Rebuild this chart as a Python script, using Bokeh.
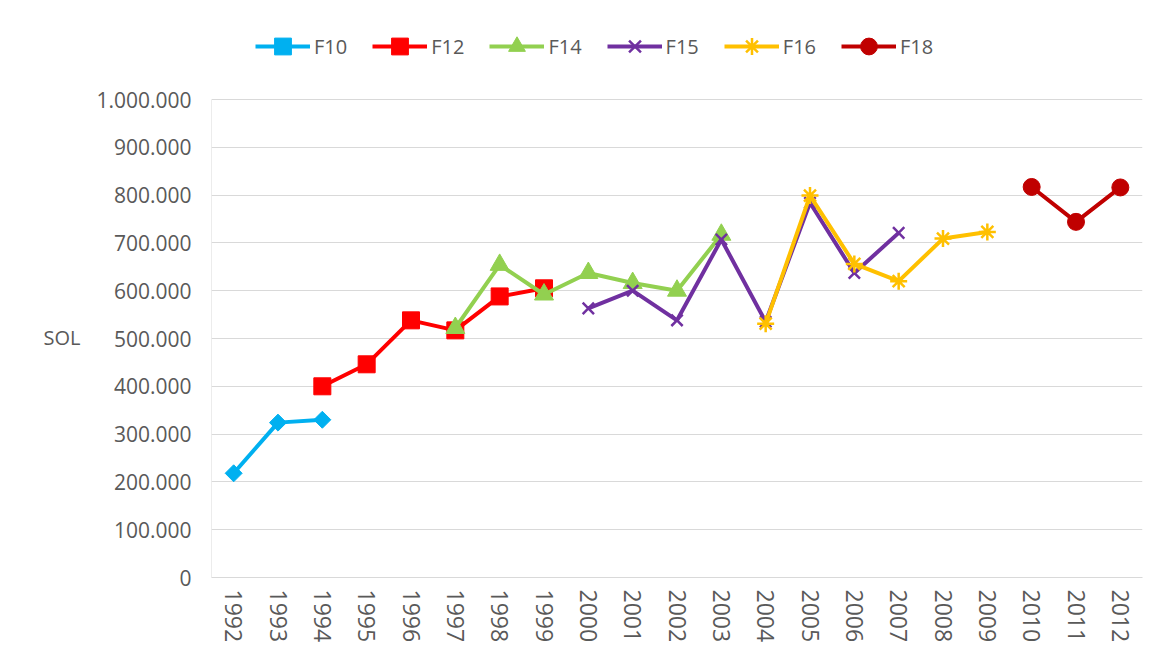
import math
from bokeh.plotting import figure
from bokeh.models import Legend, LegendItem, CustomJSTickFormatter, FixedTicker, Range1d, FactorRange
from bokeh.embed import file_html
from bokeh.resources import INLINE

years = [str(y) for y in range(1992, 2013)]

f10_years = ["1992", "1993", "1994"]
f10_vals = [218000, 324000, 330000]

f12_years = ["1994", "1995", "1996", "1997", "1998", "1999"]
f12_vals = [400000, 446000, 538000, 517000, 588000, 605000]

f14_years = ["1997", "1998", "1999", "2000", "2001", "2002", "2003"]
f14_vals = [522000, 654000, 592000, 637000, 616000, 600000, 717000]

f15_years = ["2000", "2001", "2002", "2003", "2004", "2005", "2006", "2007"]
f15_vals = [563000, 600000, 538000, 707000, 535000, 784000, 637000, 721000]

f16_years = ["2004", "2005", "2006", "2007", "2008", "2009"]
f16_vals = [531000, 799000, 656000, 620000, 709000, 723000]

f18_years = ["2010", "2011", "2012"]
f18_vals = [817000, 744000, 816000]

y_ticks = list(range(0, 1000001, 100000))
y_max = 1000000

FONT = "Open Sans"
TXT = "#595959"
GRID = "#d9d9d9"

# layout (pixels): value axis 0 at y=578, max at y=100; frame extends up to y=20 for the legend
FRAME_TOP, AXIS_TOP, FRAME_BOTTOM = 20, 100, 578
y_end = y_max * (FRAME_BOTTOM - FRAME_TOP) / (FRAME_BOTTOM - AXIS_TOP)

p = figure(width=1150, height=650, x_range=FactorRange(*years, range_padding=0),
           y_range=Range1d(0, y_end), output_backend="svg", toolbar_location=None,
           min_border_left=211, min_border_right=8, min_border_top=FRAME_TOP - 1,
           min_border_bottom=650 - FRAME_BOTTOM + 1)
p.outline_line_color = None
p.xgrid.grid_line_color = None
p.ygrid.grid_line_color = GRID
p.ygrid.grid_line_width = 1

p.yaxis.ticker = FixedTicker(ticks=y_ticks)
p.yaxis.formatter = CustomJSTickFormatter(code="""
return Math.round(tick).toString().replace(/\\B(?=(\\d{3})+(?!\\d))/g, ".");
""")
for ax in (p.xaxis[0], p.yaxis[0]):
    ax.axis_line_color = GRID
    ax.axis_line_width = 1
    ax.major_tick_line_color = None
    ax.minor_tick_line_color = None
    ax.major_tick_out = 0
    ax.major_tick_in = 0
    ax.major_label_text_font = FONT
    ax.major_label_text_color = TXT
p.yaxis.axis_line_color = None

# value axis line only up to the top tick
p.segment(x0=[0], y0=[0], x1=[0], y1=[y_max], line_color=GRID, line_width=1)

p.yaxis.major_label_text_font_size = "21px"
p.yaxis.major_label_standoff = 20
# leading blank lines move the (frame-centred) label down to the middle of the value axis
p.yaxis.axis_label = "\n\nSOL"
p.yaxis.axis_label_text_font = FONT
p.yaxis.axis_label_text_font_size = "20px"
p.yaxis.axis_label_text_line_height = 1.45
p.yaxis.axis_label_text_font_style = "normal"
p.yaxis.axis_label_text_color = TXT
p.yaxis.axis_label_standoff = 13
if "axis_label_orientation" in p.yaxis[0].properties():
    p.yaxis.axis_label_orientation = "horizontal"

p.xaxis.major_label_text_font_size = "23px"
p.xaxis.major_label_orientation = -math.pi / 2
p.xaxis.major_label_standoff = 12

series = [
    ("F10", f10_years, f10_vals, "#00b0f0", "square", 12, math.pi / 4),
    ("F12", f12_years, f12_vals, "#ff0000", "square", 17, 0),
    ("F14", f14_years, f14_vals, "#92d050", "triangle", 19, 0),
    ("F15", f15_years, f15_vals, "#7030a0", "x", 16, 0),
    ("F16", f16_years, f16_vals, "#ffc000", "asterisk", 17, 0),
    ("F18", f18_years, f18_vals, "#c00000", "circle", 17, 0),
]

items = []
for name, xs, ys, color, marker, size, angle in series:
    l = p.line(xs, ys, line_color=color, line_width=4)
    if marker in ("x", "asterisk"):
        s = p.scatter(xs, ys, marker=marker, size=size, line_color=color, line_width=2.5)
    else:
        s = p.scatter(xs, ys, marker=marker, size=size, fill_color=color, line_color=color,
                      line_width=1, angle=angle)
    items.append(LegendItem(label=name, renderers=[l, s]))

legend = Legend(items=items, orientation="horizontal", location=(44, 510),
                glyph_width=55, glyph_height=42, label_standoff=4, spacing=25,
                padding=0, margin=0, border_line_color=None, background_fill_alpha=0,
                label_text_font=FONT, label_text_font_size="20px", label_text_color=TXT)
p.add_layout(legend, "center")

open("out.html", "w").write(file_html(p, INLINE))
